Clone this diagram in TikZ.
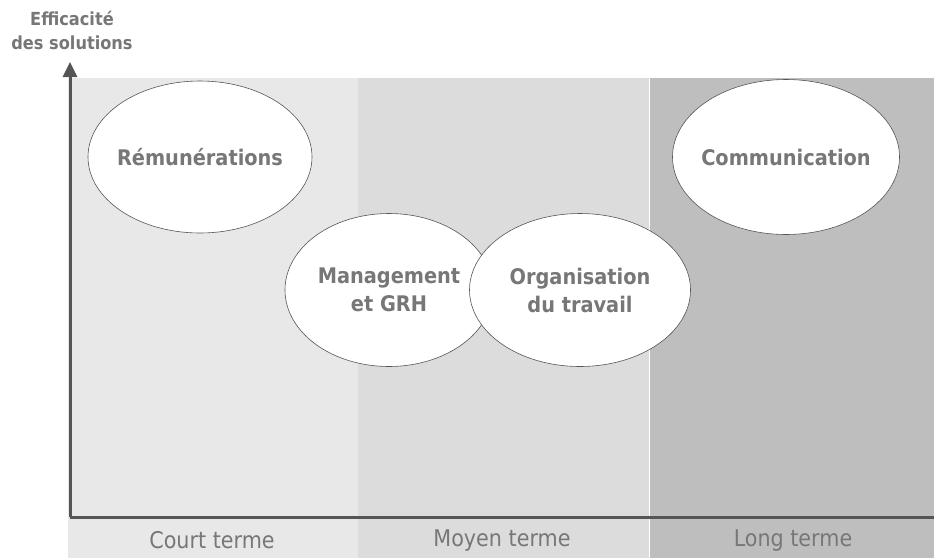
\documentclass[tikz,border=0pt]{standalone}
\usepackage{fontspec}
\setmainfont{DejaVu Sans Condensed}
\usetikzlibrary{shapes.geometric,arrows.meta}
\definecolor{court}{HTML}{E8E8E8}
\definecolor{moyen}{HTML}{DCDCDC}
\definecolor{long}{HTML}{BEBEBE}
\definecolor{axe}{HTML}{555555}
\definecolor{texte}{HTML}{777777}
\begin{document}
\begin{tikzpicture}[x=1pt,y=-1pt,
	bulle/.style={ellipse,draw=axe,line width=0.6pt,fill=white,inner ysep=0pt,inner xsep=-10pt,align=center,
		text=texte,font=\bfseries\fontsize{21.5}{28}\selectfont},
	duree/.style={text=texte,font=\fontsize{23}{26}\selectfont},
	titre/.style={text=texte,align=center,font=\bfseries\fontsize{18}{24}\selectfont}]
	\useasboundingbox (0,0) rectangle (934,558);
	\fill[court] (68,78) rectangle (358,558);%court terme
	\fill[moyen] (358,78) rectangle (649,558);%moyen terme
	\fill[long] (650,78) rectangle (934,558);%long terme
	\coordinate (O) at (70,517);
	\coordinate (Y) at (70,62);
	\coordinate (X) at (934,517);
	\draw[axe,line width=3pt,-{Triangle[length=15pt,width=14pt]}] (O) -- (Y);%axe vertical
	\draw[axe,line width=3pt] (O) -- (X);%axe horizontal
	\node[titre] (eff) at (72,30) {Efficacité\\des solutions};
	\node[bulle,minimum width=224pt,minimum height=152pt] (rem) at (200,157) {Rémunérations};
	\node[bulle,minimum width=208pt,minimum height=153pt] (mgt) at (389,290) {Management\\et GRH};
	\node[bulle,minimum width=221pt,minimum height=153pt] (orga) at (580,290) {Organisation\\du travail};
	\node[bulle,minimum width=227pt,minimum height=155pt] (comm) at (786,157) {Communication};
	\node[duree] (ct) at (212,540) {Court terme};
	\node[duree] (mt) at (502,540) {Moyen terme};
	\node[duree] (lt) at (793,540) {Long terme};
\end{tikzpicture}
\end{document}
